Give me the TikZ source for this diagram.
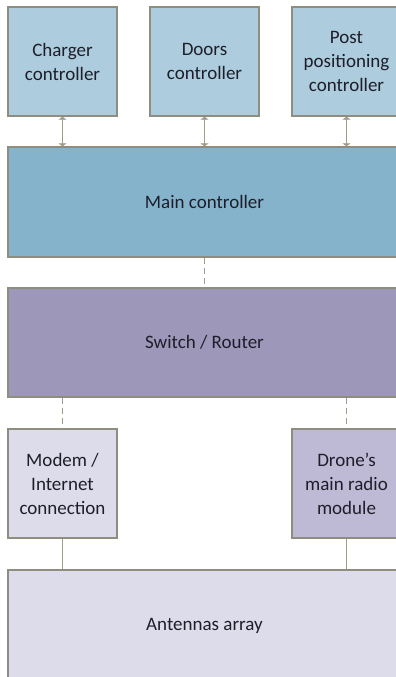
\documentclass[tikz,border=0pt]{standalone}
\usepackage{fontspec}
\setmainfont{Carlito}
\usetikzlibrary{arrows.meta}
\definecolor{topblue}{HTML}{ADCCDD}
\definecolor{mainblue}{HTML}{84B3CB}
\definecolor{switchpurple}{HTML}{9D97B9}
\definecolor{lightlav}{HTML}{DDDCEA}
\definecolor{midlav}{HTML}{BEB9D5}
\definecolor{bordergray}{HTML}{8E8D80}
\definecolor{linkgray}{HTML}{A09C8A}
\definecolor{txt}{HTML}{1E1E2A}
\begin{document}
\begin{tikzpicture}[x=1pt,y=1pt,
  box/.style={draw=bordergray, line width=1.3pt, align=center, text=txt,
    font=\fontsize{19}{24}\selectfont, inner sep=0pt},
  link/.style={draw=linkgray, line width=1.3pt},
  dlink/.style={link, dash pattern=on 6pt off 4pt},
  biarrow/.style={link, {Triangle[width=8pt,length=3pt]}-{Triangle[width=8pt,length=3pt]}}]
\useasboundingbox (0,0) rectangle (396,-677);
\clip (0,0) rectangle (396,-677);
% top row
\node[box, fill=topblue, minimum width=109pt, minimum height=109pt] (charger) at (62.5,-61.5) {Charger\\controller};
\node[box, fill=topblue, minimum width=109pt, minimum height=109pt] (doors) at (204.5,-61.5) {Doors\\controller};
\node[box, fill=topblue, minimum width=109pt, minimum height=109pt] (post) at (346.5,-61.5) {Post\\positioning\\controller};
% main controller
\node[box, fill=mainblue, minimum width=393pt, minimum height=110pt] (main) at (204.5,-202) {Main controller};
% switch
\node[box, fill=switchpurple, minimum width=393pt, minimum height=109pt] (switch) at (204.5,-342.5) {Switch / Router};
% lower row
\node[box, fill=lightlav, minimum width=109pt, minimum height=109pt] (modem) at (62.5,-483.5) {Modem /\\Internet\\connection};
\node[box, fill=midlav, minimum width=109pt, minimum height=109pt] (drone) at (346.5,-483.5) {Drone’s\\main radio\\module};
% antennas
\node[box, fill=lightlav, minimum width=393pt, minimum height=112pt] (ant) at (204.5,-626) {Antennas array};
% connectors
\draw[biarrow] (charger.south) -- (charger.south |- main.north);
\draw[biarrow] (doors.south) -- (doors.south |- main.north);
\draw[biarrow] (post.south) -- (post.south |- main.north);
\draw[dlink] (main.south) -- (switch.north);
\draw[dlink] (modem.north |- switch.south) -- (modem.north);
\draw[dlink] (drone.north |- switch.south) -- (drone.north);
\draw[link] (modem.south) -- (modem.south |- ant.north);
\draw[link] (drone.south) -- (drone.south |- ant.north);
\end{tikzpicture}
\end{document}
